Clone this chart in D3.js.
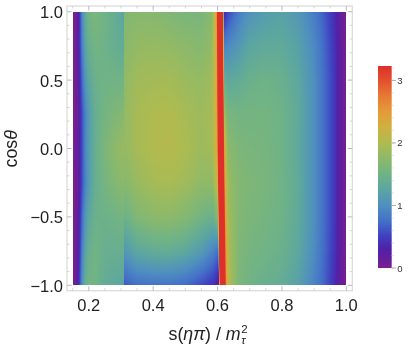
<!DOCTYPE html>
<html>
<head>
<meta charset="utf-8">
<script src="https://cdn.jsdelivr.net/npm/d3@7"></script>
<style>
html, body { margin: 0; padding: 0; background: #fff; }
body { position: relative; width: 411px; height: 348px; overflow: hidden; }
canvas, svg { position: absolute; left: 0; top: 0; }
canvas { filter: blur(0.5px); }
svg { filter: blur(0.25px); }
text { font-family: "Liberation Sans", Arial, sans-serif; }
</style>
</head>
<body>
<script>
// grid, s knots run along each row
let sKnots = [0.15, 0.16, 0.17, 0.18, 0.19, 0.20, 0.22, 0.25, 0.28, 0.309, 0.3091, 0.35, 0.40, 0.45, 0.50, 0.55, 0.585, 0.600, 0.6035, 0.612, 0.6205, 0.624, 0.634, 0.665, 0.70, 0.75, 0.80, 0.85, 0.90, 0.93, 0.96, 0.98, 1.00];
let cosKnots = [-1, -0.75, -0.5, -0.25, 0, 0.25, 0.5, 0.75, 1];

let rowM100 = [0, 0.10, 0.45, 1.05, 1.40, 1.52, 1.52, 1.35, 1.30, 1.25, 0.62, 0.75, 0.78, 0.78, 0.72, 0.55, 0.40, 0.22, 3.2, 3.5, 3.2, 2.5, 2.0, 1.60, 1.50, 1.42, 1.36, 1.20, 0.90, 0.70, 0.42, 0.20, 0];
let rowM075 = [0, 0.08, 0.35, 0.90, 1.25, 1.42, 1.50, 1.42, 1.40, 1.40, 1.08, 1.28, 1.36, 1.38, 1.30, 1.12, 0.90, 0.75, 3.2, 3.5, 3.2, 2.5, 1.95, 1.63, 1.55, 1.50, 1.44, 1.28, 0.97, 0.73, 0.46, 0.22, 0];
let rowM050 = [0, 0.06, 0.28, 0.75, 1.10, 1.28, 1.45, 1.46, 1.50, 1.55, 1.45, 1.65, 1.74, 1.76, 1.68, 1.52, 1.45, 1.70, 3.2, 3.5, 3.2, 2.45, 1.90, 1.66, 1.60, 1.55, 1.48, 1.32, 1.00, 0.75, 0.48, 0.22, 0];
let rowM025 = [0, 0.06, 0.22, 0.60, 0.92, 1.13, 1.40, 1.55, 1.66, 1.75, 1.70, 1.84, 1.93, 1.96, 1.90, 1.78, 1.78, 2.20, 3.2, 3.5, 3.2, 2.35, 1.85, 1.68, 1.62, 1.58, 1.50, 1.33, 1.00, 0.75, 0.48, 0.22, 0];
let row000 = [0, 0.10, 0.25, 0.60, 0.95, 1.15, 1.40, 1.60, 1.75, 1.85, 1.80, 1.94, 2.02, 2.05, 1.98, 1.88, 1.92, 2.35, 3.2, 3.5, 3.2, 2.30, 1.75, 1.62, 1.58, 1.56, 1.48, 1.30, 1.00, 0.75, 0.48, 0.22, 0];
let rowP025 = [0, 0.06, 0.22, 0.60, 0.92, 1.13, 1.40, 1.54, 1.62, 1.70, 1.80, 1.94, 2.00, 2.02, 1.95, 1.88, 1.94, 2.40, 3.2, 3.5, 3.2, 1.90, 1.60, 1.53, 1.54, 1.54, 1.48, 1.32, 1.00, 0.75, 0.48, 0.22, 0];
let rowP050 = [0, 0.06, 0.28, 0.75, 1.10, 1.28, 1.45, 1.50, 1.50, 1.50, 1.78, 1.90, 1.93, 1.93, 1.86, 1.82, 1.90, 2.40, 3.2, 3.5, 3.2, 1.40, 1.30, 1.34, 1.44, 1.48, 1.43, 1.28, 1.00, 0.75, 0.48, 0.22, 0];
let rowP075 = [0, 0.08, 0.35, 0.90, 1.25, 1.42, 1.52, 1.48, 1.40, 1.34, 1.72, 1.80, 1.82, 1.80, 1.75, 1.70, 1.80, 2.40, 3.2, 3.5, 3.2, 0.90, 0.95, 1.08, 1.26, 1.32, 1.32, 1.20, 0.95, 0.72, 0.45, 0.22, 0];
let rowP100 = [0, 0.05, 0.35, 1.00, 1.35, 1.55, 1.60, 1.50, 1.38, 1.25, 1.66, 1.70, 1.70, 1.64, 1.58, 1.58, 1.72, 2.40, 3.2, 3.5, 3.2, 0.30, 0.50, 0.82, 1.03, 1.15, 1.20, 1.10, 0.85, 0.65, 0.40, 0.20, 0];
let zRows = [rowM100, rowM075, rowM050, rowM025, row000, rowP025, rowP050, rowP075, rowP100];

// centre of the resonance band, it leans a little with cos theta
let peakCos = [-1, 0, 1];
let peakS = [0.6157, 0.610, 0.6076];

let colorStops = [0, 0.1, 0.3, 0.5, 0.75, 1, 1.25, 1.5, 1.75, 2, 2.25, 2.5, 2.75, 3, 3.23];
let colorValues = ['#7b1f8f', '#6a1f98', '#5220a6', '#3f3fc0', '#4470c8', '#4f8fbf', '#5ba5a2', '#70b385', '#8cb96a', '#aebb50', '#cfb040', '#e59a38', '#e67a33', '#e2502e', '#de2f2b'];

let xTicksMajor = [0.2, 0.4, 0.6, 0.8, 1.0];
let yTicksMajor = [-1, -0.5, 0, 0.5, 1];
let barTicks = [0, 1, 2, 3];

let width = 411, height = 348;

let x = d3.scaleLinear().domain([0.15, 1]).range([72.7, 346.3]);
let y = d3.scaleLinear().domain([-1, 1]).range([285.3, 11.7]);
let color = d3.scaleLinear().domain(colorStops).range(colorValues).clamp(true);
let barY = d3.scaleLinear().domain([0, 3.23]).range([268, 66]);

let peak = d3.scaleLinear().domain(peakCos).range(peakS);

// bilinear lookup in the grid, the s axis is bent so the band stays on its knots
function valueAt(s, c) {
  let warp = d3.scaleLinear().domain([0.5, peak(c), 0.75]).range([0.5, 0.612, 0.75]);
  let u = s > 0.5 && s < 0.75 ? warp(s) : s;
  let i = Math.min(d3.bisectRight(sKnots, u), sKnots.length - 1);
  let j = Math.min(d3.bisectRight(cosKnots, c), cosKnots.length - 1);
  i = Math.max(i, 1);
  j = Math.max(j, 1);
  let ts = (u - sKnots[i - 1]) / (sKnots[i] - sKnots[i - 1]);
  let tc = (c - cosKnots[j - 1]) / (cosKnots[j] - cosKnots[j - 1]);
  let low = zRows[j - 1][i - 1] * (1 - ts) + zRows[j - 1][i] * ts;
  let high = zRows[j][i - 1] * (1 - ts) + zRows[j][i] * ts;
  return low * (1 - tc) + high * tc;
}

// density is painted on a canvas pixel by pixel
let canvas = d3.select("body").append("canvas").attr("width", width).attr("height", height);
let ctx = canvas.node().getContext("2d");
let x0 = Math.round(x.range()[0]), x1 = Math.round(x.range()[1]);
let y0 = Math.round(y.range()[1]), y1 = Math.round(y.range()[0]);
for (let py = y0; py < y1; py++) {
  for (let px = x0; px < x1; px++) {
    ctx.fillStyle = color(valueAt(x.invert(px + 0.5), y.invert(py + 0.5)));
    ctx.fillRect(px, py, 1, 1);
  }
}

let svg = d3.select("body").append("svg").attr("width", width).attr("height", height);

// colour bar
let defs = svg.append("defs");
let grad = defs.append("linearGradient").attr("id", "bar")
  .attr("x1", 0).attr("x2", 0).attr("y1", 1).attr("y2", 0);
colorStops.forEach(function (d, i) {
  grad.append("stop").attr("offset", d / 3.23).attr("stop-color", colorValues[i]);
});
svg.append("rect").attr("x", 378).attr("y", barY(3.23)).attr("width", 13.7)
  .attr("height", barY(0) - barY(3.23)).attr("fill", "url(#bar)");
svg.append("g").selectAll("line").data(d3.range(0, 3.21, 0.2)).join("line")
  .attr("x1", 391.7).attr("x2", 394).attr("y1", barY).attr("y2", barY)
  .attr("stroke", "#ddd").attr("stroke-width", 0.8);
svg.append("g").selectAll("line").data(barTicks).join("line")
  .attr("x1", 391.7).attr("x2", 396).attr("y1", barY).attr("y2", barY)
  .attr("stroke", "#999").attr("stroke-width", 0.8);
svg.append("g").selectAll("text").data(barTicks).join("text")
  .attr("x", 400).attr("y", d => barY(d) + 3.5)
  .attr("text-anchor", "middle").attr("font-size", 9.5).attr("fill", "#333")
  .text(d => d);

// frame
let fL = 67, fR = 352.3, fT = 6, fB = 290.7;
svg.append("rect").attr("x", fL).attr("y", fT).attr("width", fR - fL).attr("height", fB - fT)
  .attr("fill", "none").attr("stroke", "#dcdcdc").attr("stroke-width", 1.3);

// ticks on all four sides
let xMinor = d3.range(0.15, 1.001, 0.05);
let yMinor = d3.range(-1, 1.001, 0.1);
function isMajor(v, list) { return list.some(t => Math.abs(t - v) < 1e-6); }

let xt = svg.append("g").selectAll("g").data(xMinor).join("g");
[[fB, -1], [fT, 1]].forEach(function (side) {
  xt.append("line").attr("x1", x).attr("x2", x)
    .attr("y1", side[0])
    .attr("y2", d => side[0] + side[1] * (isMajor(d, xTicksMajor) ? 4.5 : 2.5))
    .attr("stroke", d => isMajor(d, xTicksMajor) ? "#aaa" : "#ccc").attr("stroke-width", 0.8);
});
let yt = svg.append("g").selectAll("g").data(yMinor).join("g");
[[fL, 1], [fR, -1]].forEach(function (side) {
  yt.append("line").attr("y1", y).attr("y2", y)
    .attr("x1", side[0])
    .attr("x2", d => side[0] + side[1] * (isMajor(d, yTicksMajor) ? 4.5 : 2.5))
    .attr("stroke", d => isMajor(d, yTicksMajor) ? "#aaa" : "#ccc").attr("stroke-width", 0.8);
});

// tick labels
svg.append("g").selectAll("text").data(xTicksMajor).join("text")
  .attr("x", x).attr("y", 310.5).attr("text-anchor", "middle")
  .attr("font-size", 16.5).attr("fill", "#222")
  .text(d3.format(".1f"));
svg.append("g").selectAll("text").data(yTicksMajor).join("text")
  .attr("x", 63).attr("y", d => y(d) + 6.5).attr("text-anchor", "end")
  .attr("font-size", 16.5).attr("fill", "#222")
  .text(d => d3.format(".1f")(d).replace("-", "\u2212"));

// axis titles
let xTitle = svg.append("text").attr("x", 168.5).attr("y", 340).attr("font-size", 17.8).attr("fill", "#222");
xTitle.append("tspan").text("s(");
xTitle.append("tspan").attr("font-style", "italic").text("\u03b7\u03c0");
xTitle.append("tspan").text(") / ");
xTitle.append("tspan").attr("font-style", "italic").text("m");
xTitle.append("tspan").attr("font-size", 11.5).attr("dy", -7).attr("dx", 0.5).text("2");
xTitle.append("tspan").attr("font-size", 11.5).attr("font-style", "italic").attr("dy", 11).attr("dx", -6.4).text("\u03c4");

let yTitle = svg.append("text").attr("transform", "translate(17,167.5) rotate(-90)")
  .attr("font-size", 17.8).attr("fill", "#222");
yTitle.append("tspan").text("cos");
yTitle.append("tspan").attr("font-style", "italic").text("\u03b8");
</script>
</body>
</html>
